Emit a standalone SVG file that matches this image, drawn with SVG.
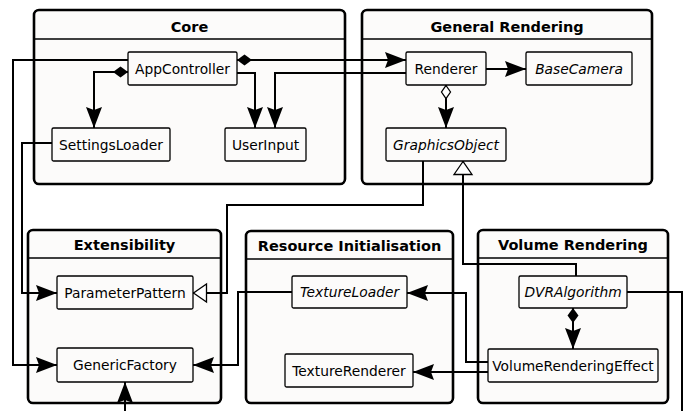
<svg xmlns="http://www.w3.org/2000/svg" width="685" height="411" viewBox="0 0 685 411">
<style>
.pkg{fill:#fcfbfa;stroke:#000;stroke-width:2.6}
.hdr{stroke:#000;stroke-width:1.3;fill:none}
.ttl{font-family:"DejaVu Sans",sans-serif;font-weight:bold;font-size:14.5px;text-anchor:middle;fill:#000}
.box{fill:#fcfbfa;stroke:#000;stroke-width:1.3}
.lbl{font-family:"DejaVu Sans",sans-serif;font-size:13.8px;text-anchor:middle;fill:#000}
.it{font-style:italic}
.con path{fill:none;stroke:#000;stroke-width:2}
</style>
<defs>
<marker id="arrow" viewBox="-22 -9 23 18" refX="0" refY="0" markerWidth="23" markerHeight="18" markerUnits="userSpaceOnUse" orient="auto" overflow="visible">
<path d="M0,0 L-21,-8 L-18,0 L-21,8 Z" fill="#000" stroke="none"/>
</marker>
<marker id="dfill" viewBox="-1 -7 17 14" refX="0" refY="0" markerWidth="17" markerHeight="14" markerUnits="userSpaceOnUse" orient="auto" overflow="visible">
<path d="M0,0 L7.5,-5.5 L15,0 L7.5,5.5 Z" fill="#000" stroke="none"/>
</marker>
<marker id="dhollow" viewBox="-1 -7 17 14" refX="0" refY="0" markerWidth="17" markerHeight="14" markerUnits="userSpaceOnUse" orient="auto" overflow="visible">
<path d="M0.5,0 L7,-4.5 L13.5,0 L7,4.5 Z" fill="#fff" stroke="#000" stroke-width="1.3"/>
</marker>
<marker id="tri" viewBox="-15 -10 16 20" refX="0" refY="0" markerWidth="16" markerHeight="20" markerUnits="userSpaceOnUse" orient="auto" overflow="visible">
<path d="M-0.5,0 L-13.5,-9 L-13.5,9 Z" fill="#fff" stroke="#000" stroke-width="1.3"/>
</marker>
</defs>

<g id="pkg-core">
<rect class="pkg" x="34" y="10" width="311" height="174" rx="5"/>
<line class="hdr" x1="34" y1="39" x2="345" y2="39"/>
<text class="ttl" x="189.5" y="32">Core</text>
</g>
<g id="pkg-general">
<rect class="pkg" x="362" y="10" width="290" height="174" rx="5"/>
<line class="hdr" x1="362" y1="39" x2="652" y2="39"/>
<text class="ttl" x="507" y="32">General Rendering</text>
</g>
<g id="pkg-ext">
<rect class="pkg" x="28" y="230" width="193" height="173" rx="5"/>
<line class="hdr" x1="28" y1="258" x2="221" y2="258"/>
<text class="ttl" x="124.5" y="250">Extensibility</text>
</g>
<g id="pkg-res">
<rect class="pkg" x="246" y="231" width="207" height="172" rx="5"/>
<line class="hdr" x1="246" y1="259" x2="453" y2="259"/>
<text class="ttl" x="349.5" y="251">Resource Initialisation</text>
</g>
<g id="pkg-vol">
<rect class="pkg" x="478" y="230" width="190" height="173" rx="5"/>
<line class="hdr" x1="478" y1="258" x2="668" y2="258"/>
<text class="ttl" x="573" y="250">Volume Rendering</text>
</g>

<g class="con" id="connectors">
<path d="M128,60 H13 V365 H57" marker-end="url(#arrow)"/>
<path d="M52,143 H22 V293 H57" marker-end="url(#arrow)"/>
<path d="M237,60 H406" marker-start="url(#dfill)" marker-end="url(#arrow)"/>
<path d="M128,72 H94 V128" marker-start="url(#dfill)" marker-end="url(#arrow)"/>
<path d="M237,73 H255 V128" marker-end="url(#arrow)"/>
<path d="M406,73 H275 V128" marker-end="url(#arrow)"/>
<path d="M486,69 H526" marker-end="url(#arrow)"/>
<path d="M446,85 V128" marker-start="url(#dhollow)" marker-end="url(#arrow)"/>
<path d="M423,161 V205 H227 V293 H193" marker-end="url(#tri)"/>
<path d="M576,276 V264 H463 V161" marker-end="url(#tri)"/>
<path d="M292,292 H238 V365 H193" marker-end="url(#arrow)"/>
<path d="M488,362 H466 V293 H407" marker-end="url(#arrow)"/>
<path d="M488,372 H413" marker-end="url(#arrow)"/>
<path d="M573,308 V349" marker-start="url(#dfill)" marker-end="url(#arrow)"/>
<path d="M627,292 H682 V411"/>
<path d="M125,411 V382" marker-end="url(#arrow)"/>
</g>

<g id="AppController"><rect class="box" x="128" y="52" width="109" height="33" rx="1.5"/><text class="lbl" x="182.5" y="73.5">AppController</text></g>
<g id="SettingsLoader"><rect class="box" x="52" y="128" width="118" height="33" rx="1.5"/><text class="lbl" x="111" y="149.5">SettingsLoader</text></g>
<g id="UserInput"><rect class="box" x="225" y="128" width="81" height="33" rx="1.5"/><text class="lbl" x="265.5" y="149.5">UserInput</text></g>
<g id="Renderer"><rect class="box" x="406" y="52" width="80" height="33" rx="1.5"/><text class="lbl" x="446" y="73.5">Renderer</text></g>
<g id="BaseCamera"><rect class="box" x="526" y="52" width="106" height="33" rx="1.5"/><text class="lbl it" x="579" y="73.5">BaseCamera</text></g>
<g id="GraphicsObject"><rect class="box" x="386" y="128" width="120" height="33" rx="1.5"/><text class="lbl it" x="446" y="149.5">GraphicsObject</text></g>
<g id="ParameterPattern"><rect class="box" x="57" y="276" width="136" height="33" rx="1.5"/><text class="lbl" x="125" y="297.5">ParameterPattern</text></g>
<g id="GenericFactory"><rect class="box" x="57" y="348" width="136" height="34" rx="1.5"/><text class="lbl" x="125" y="370">GenericFactory</text></g>
<g id="TextureLoader"><rect class="box" x="292" y="276" width="115" height="32" rx="1.5"/><text class="lbl it" x="349.5" y="297">TextureLoader</text></g>
<g id="TextureRenderer"><rect class="box" x="285" y="354" width="128" height="33" rx="1.5"/><text class="lbl" x="349" y="375.5">TextureRenderer</text></g>
<g id="DVRAlgorithm"><rect class="box" x="519" y="276" width="108" height="32" rx="1.5"/><text class="lbl it" x="573" y="297">DVRAlgorithm</text></g>
<g id="VolumeRenderingEffect"><rect class="box" x="488" y="349" width="170" height="33" rx="1.5"/><text class="lbl" x="573" y="370.5">VolumeRenderingEffect</text></g>
</svg>
